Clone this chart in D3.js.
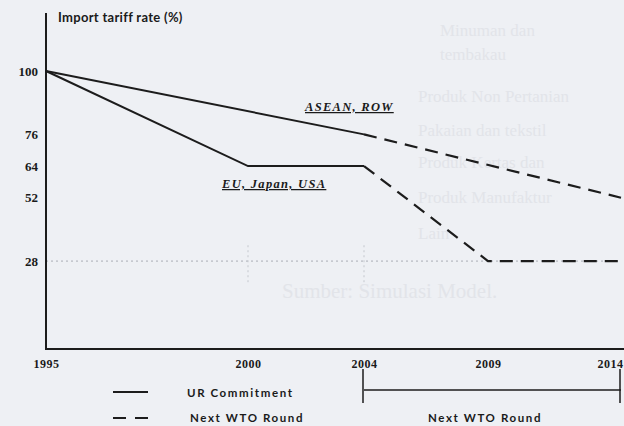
<!DOCTYPE html>
<html>
<head>
<meta charset="utf-8">
<script src="https://cdn.jsdelivr.net/npm/d3@7"></script>
<style>
  body { margin: 0; background: #eef0f4; }
  svg { display: block; }
</style>
</head>
<body>
<div id="chart"></div>
<script>
// chart size
var chart_width  = 624;
var chart_height = 426;

// data
var years      = [1995, 2000, 2004, 2009, 2014];
var rateTicks  = [100, 76, 64, 52, 28];
var aseanYears = [1995, 2004, 2014];
var aseanRates = [100, 76, 52];
var euYears    = [1995, 2000, 2004, 2009, 2014];
var euRates    = [100, 64, 64, 28, 28];
var splitYear  = 2004;   // UR commitment up to here, next WTO round after
var legendLabels = ["UR Commitment", "Next WTO Round"];

// faint text showing through from the scanned page
var ghostLines = [
  ["Minuman dan", 440, 36], ["tembakau", 440, 60],
  ["Produk Non Pertanian", 418, 102], ["Pakaian dan tekstil", 418, 136],
  ["Produk Kertas dan", 418, 168], ["Produk Manufaktur", 418, 203],
  ["Lain", 418, 239], ["Sumber: Simulasi Model.", 282, 298]
];

var svg = d3.select("#chart")
  .append("svg")
  .attr("width", chart_width)
  .attr("height", chart_height);

svg.append("rect").attr("width", chart_width).attr("height", chart_height).attr("fill", "#eef0f4");

svg.selectAll(".ghost")
  .data(ghostLines)
  .enter()
  .append("text")
  .attr("class", "ghost")
  .attr("x", function(d){ return d[1]; })
  .attr("y", function(d){ return d[2]; })
  .attr("font-family", "Liberation Serif")
  .attr("font-size", function(d){ return d[2] > 280 ? 21 : 17; })
  .attr("fill", "#e2e4e9")
  .text(function(d){ return d[0]; });

// x is hand drawn, so spacing between years is uneven
var x = d3.scaleLinear().domain(years).range([46, 248, 364, 488, 621]);
var y = d3.scaleLinear().domain([0, 100]).range([335, 71]);

var axisBottomY = 349;

// faint dotted reference at 28
svg.append("line")
  .attr("x1", x(1995)).attr("x2", x(2014))
  .attr("y1", y(28)).attr("y2", y(28))
  .attr("stroke", "#a9adb5").attr("stroke-width", 1)
  .attr("stroke-dasharray", "2,3");
svg.selectAll(".vref")
  .data([2000, 2004])
  .enter()
  .append("line")
  .attr("x1", function(d){ return x(d); }).attr("x2", function(d){ return x(d); })
  .attr("y1", y(34)).attr("y2", y(20))
  .attr("stroke", "#c4c7cd").attr("stroke-width", 1)
  .attr("stroke-dasharray", "2,3");

// axes
var yAxis = svg.append("g")
  .attr("transform", "translate(46,0)")
  .call(d3.axisLeft(y).tickValues(rateTicks).tickSize(0).tickPadding(8));
yAxis.select(".domain").remove();
yAxis.selectAll("text")
  .attr("font-family", "Liberation Serif")
  .attr("font-weight", "bold")
  .attr("font-size", 13)
  .attr("fill", "#1a1a1a");

var xAxis = svg.append("g")
  .attr("transform", "translate(0," + axisBottomY + ")")
  .call(d3.axisBottom(x).tickValues(years).tickSize(0).tickPadding(10).tickFormat(d3.format("d")));
xAxis.select(".domain").remove();
xAxis.selectAll("text")
  .attr("font-family", "Liberation Serif")
  .attr("font-weight", "bold")
  .attr("font-size", 12)
  .attr("letter-spacing", 0.5)
  .attr("fill", "#1a1a1a");
// last year sits at the right edge, keep it inside
xAxis.selectAll("text")
  .filter(function(d){ return d == 2014; })
  .attr("text-anchor", "end")
  .attr("x", 2);

svg.append("line")
  .attr("x1", 46).attr("x2", 46).attr("y1", 13).attr("y2", axisBottomY + 1)
  .attr("stroke", "#1c1c1c").attr("stroke-width", 2);
svg.append("line")
  .attr("x1", 45).attr("x2", chart_width).attr("y1", axisBottomY).attr("y2", axisBottomY)
  .attr("stroke", "#1c1c1c").attr("stroke-width", 2);

svg.append("text")
  .attr("x", 58).attr("y", 22)
  .attr("font-family", "Lato")
  .attr("font-weight", "bold")
  .attr("font-size", 13)
  .attr("letter-spacing", 0.3)
  .attr("fill", "#1a1a1a")
  .text("Import tariff rate (%)");

// lines: solid before split, dashed after
var line = d3.line()
  .x(function(d){ return x(d[0]); })
  .y(function(d){ return y(d[1]); });

function drawSeries(yrs, vals) {
  var pts = d3.zip(yrs, vals);
  var solid = pts.filter(function(d){ return d[0] <= splitYear; });
  var dashed = pts.filter(function(d){ return d[0] >= splitYear; });
  svg.append("path").attr("d", line(solid))
    .attr("fill", "none").attr("stroke", "#1c1c1c").attr("stroke-width", 2);
  svg.append("path").attr("d", line(dashed))
    .attr("fill", "none").attr("stroke", "#1c1c1c").attr("stroke-width", 2.2)
    .attr("stroke-dasharray", "13,8");
}
drawSeries(aseanYears, aseanRates);
drawSeries(euYears, euRates);

// series labels, bold italic underlined
function seriesLabel(txt, lx, ly) {
  svg.append("text")
    .attr("x", lx).attr("y", ly)
    .attr("font-family", "Liberation Serif")
    .attr("font-weight", "bold")
    .attr("font-style", "italic")
    .attr("font-size", 12.5)
    .attr("letter-spacing", 1.3)
    .attr("text-decoration", "underline")
    .attr("fill", "#1a1a1a")
    .text(txt);
}
seriesLabel("ASEAN, ROW", 305, 111);
seriesLabel("EU, Japan, USA", 222, 188);

// legend
svg.append("line").attr("x1", 113).attr("x2", 148).attr("y1", 392).attr("y2", 392)
  .attr("stroke", "#1c1c1c").attr("stroke-width", 2);
svg.append("line").attr("x1", 113).attr("x2", 148).attr("y1", 418).attr("y2", 418)
  .attr("stroke", "#1c1c1c").attr("stroke-width", 2)
  .attr("stroke-dasharray", "13,9");

svg.selectAll(".legtext")
  .data(legendLabels)
  .enter()
  .append("text")
  .attr("x", function(d, i){ return i == 0 ? 187 : 190; })
  .attr("y", function(d, i){ return 397 + i * 25; })
  .attr("font-family", "Lato")
  .attr("font-weight", "bold")
  .attr("font-size", 11.5)
  .attr("letter-spacing", 1.6)
  .attr("fill", "#1a1a1a")
  .text(function(d){ return d; });

// bracket for the next WTO round period
svg.append("line").attr("x1", x(splitYear)).attr("x2", x(2014)).attr("y1", 390).attr("y2", 390)
  .attr("stroke", "#1c1c1c").attr("stroke-width", 1.5);
svg.selectAll(".brk")
  .data([splitYear, 2014])
  .enter()
  .append("line")
  .attr("x1", function(d){ return x(d) - 1; }).attr("x2", function(d){ return x(d) - 1; })
  .attr("y1", 369).attr("y2", 403)
  .attr("stroke", "#1c1c1c").attr("stroke-width", 1.5);
svg.append("text")
  .attr("x", 485).attr("y", 422)
  .attr("text-anchor", "middle")
  .attr("font-family", "Lato")
  .attr("font-weight", "bold")
  .attr("font-size", 11.5)
  .attr("letter-spacing", 1.6)
  .attr("fill", "#1a1a1a")
  .text(legendLabels[1]);
</script>
</body>
</html>
